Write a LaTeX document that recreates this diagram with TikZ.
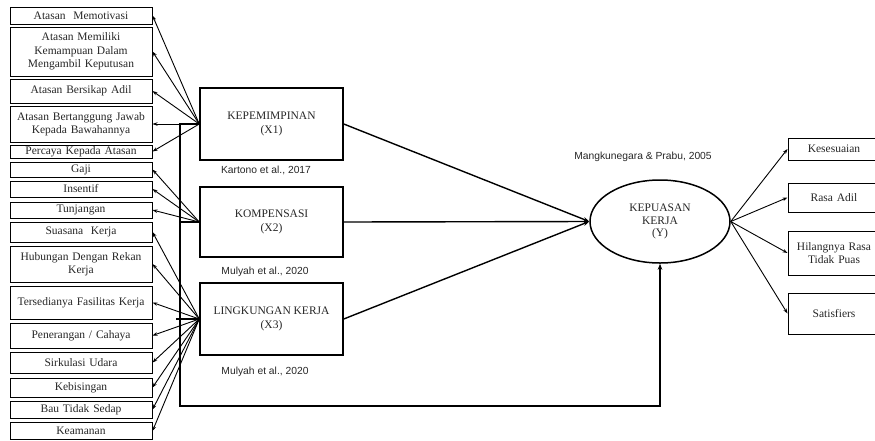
\documentclass[tikz,border=0pt]{standalone}
\usepackage{fontspec}
\setmainfont{Liberation Serif}
\setsansfont{Liberation Sans}
\usetikzlibrary{arrows.meta,shapes.geometric}

\newcommand{\lblfont}{\fontsize{11.5}{13.5}\selectfont}
\newcommand{\srcfont}{\sffamily\fontsize{10.3}{12}\selectfont}

\begin{document}
\begin{tikzpicture}[x=1pt,y=-1pt,
	indbox/.style={draw,line width=1pt,inner sep=0pt,minimum width=142pt,text width=140pt,align=center,font=\lblfont,text=black!85},
	rbox/.style={draw,line width=1pt,inner sep=0pt,minimum width=92pt,text width=90pt,align=center,font=\lblfont,text=black!85},
	cbox/.style={draw,line width=1.5pt,inner sep=0pt,minimum width=143pt,minimum height=72pt,align=center,font=\lblfont,text=black!85},
	indarr/.style={line width=0.9pt,-{Stealth[length=5pt,width=3.5pt]}},
	mainarr/.style={line width=1.4pt,-{Stealth[length=6pt,width=4.5pt]}},
	src/.style={font=\srcfont,text=black!85}]
	\useasboundingbox (0,0) rectangle (875,440);

	% indikator kepemimpinan
	\node[indbox,minimum height=17pt] (pim1) at (81,15.5) {Atasan\ \ Memotivasi};
	\node[indbox,minimum height=49pt] (pim2) at (81,51.5) {Atasan Memiliki\\Kemampuan Dalam\\Mengambil Keputusan};
	\node[indbox,minimum height=24pt] (pim3) at (81,91) {Atasan Bersikap Adil};
	\node[indbox,minimum height=36pt] (pim4) at (81,124) {Atasan Bertanggung Jawab\\Kepada Bawahannya};
	\node[indbox,minimum height=13pt] (pim5) at (81,151.5) {Percaya Kepada Atasan};

	% indikator kompensasi
	\node[indbox,minimum height=15pt] (kom1) at (81,169.5) {Gaji};
	\node[indbox,minimum height=16pt] (kom2) at (81,189) {Insentif};
	\node[indbox,minimum height=16pt] (kom3) at (81,210) {Tunjangan};

	% indikator lingkungan kerja
	\node[indbox,minimum height=20pt] (lin1) at (81,232) {Suasana\ \ Kerja};
	\node[indbox,minimum height=36pt] (lin2) at (81,264) {Hubungan Dengan Rekan\\Kerja};
	\node[indbox,minimum height=33pt] (lin3) at (81,302.5) {Tersedianya Fasilitas Kerja};
	\node[indbox,minimum height=25pt] (lin4) at (81,335.5) {Penerangan / Cahaya};
	\node[indbox,minimum height=21pt] (lin5) at (81,362.5) {Sirkulasi Udara};
	\node[indbox,minimum height=19pt] (lin6) at (81,387.5) {Kebisingan};
	\node[indbox,minimum height=17pt] (lin7) at (81,409.5) {Bau Tidak Sedap};
	\node[indbox,minimum height=17pt] (lin8) at (81,431) {Keamanan};

	% variabel
	\node[cbox] (pim) at (271.5,124) {KEPEMIMPINAN\\(X1)};
	\node[cbox,minimum height=70pt] (kom) at (271.5,222) {KOMPENSASI\\(X2)};
	\node[cbox] (lin) at (271.5,319) {LINGKUNGAN KERJA\\(X3)};
	\node[draw,ellipse,line width=1.5pt,inner sep=0pt,minimum width=140pt,minimum height=83pt,align=center,
		font=\fontsize{11.5}{12.5}\selectfont,text=black!85] (kpu) at (660,221.5) {KEPUASAN\\KERJA\\(Y)};

	\node[src] (src1) at (266,170) {Kartono et al., 2017};
	\node[src] (src2) at (265,272) {Mulyah et al., 2020};
	\node[src] (src3) at (265,372) {Mulyah et al., 2020};
	\node[src] (src4) at (643,157) {Mangkunegara \& Prabu, 2005};

	% indikator kepuasan kerja
	\node[rbox,minimum height=22pt] (kep1) at (834,149) {Kesesuaian};
	\node[rbox,minimum height=29pt] (kep2) at (834,197.5) {Rasa Adil};
	\node[rbox,minimum height=44pt] (kep3) at (834,253) {Hilangnya Rasa\\Tidak Puas};
	\node[rbox,minimum height=41pt] (kep4) at (834,313.5) {Satisfiers};

	\foreach \i in {1,...,5} \draw[indarr] (pim.west) -- (pim\i.east);
	\foreach \i in {1,...,3} \draw[indarr] (kom.west) -- (kom\i.east);
	\foreach \i in {1,...,8} \draw[indarr] (lin.west) -- (lin\i.east);
	\foreach \i in {1,...,4} \draw[indarr] (kpu.east) -- (kep\i.west);

	\draw[mainarr] (pim.east) -- (kpu.west);
	\draw[mainarr] (kom.east) -- (kpu.west);
	\draw[mainarr] (lin.east) -- (kpu.west);

	% garis simultan
	\coordinate (fbtop) at (180,124);
	\coordinate (fbbot) at (180,406);
	\draw[mainarr] (pim.west) -- (fbtop) -- (fbbot) -| (kpu.south);
	\draw[line width=1.4pt] (kom.west) -- (kom.west -| fbtop);
	\draw[line width=1.4pt] (lin.west) -- ([xshift=-4pt]lin.west -| fbtop);
\end{tikzpicture}
\end{document}
